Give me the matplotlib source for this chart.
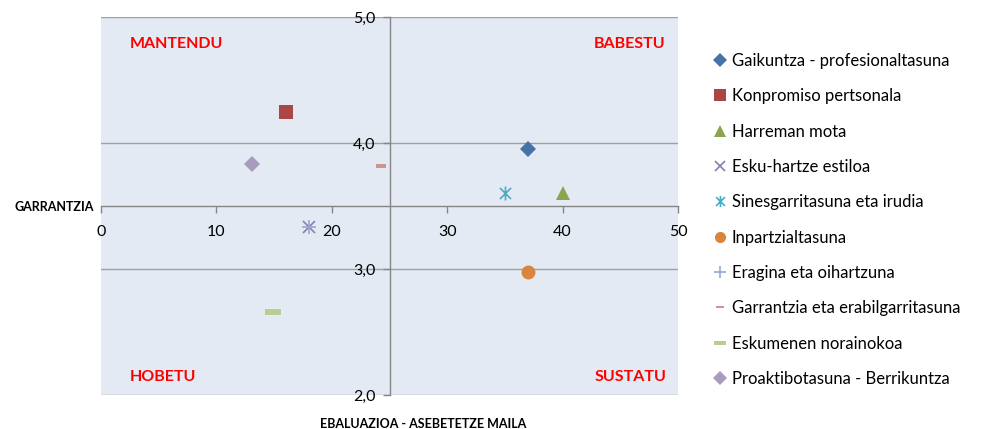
import matplotlib
matplotlib.use("Agg")
import matplotlib.pyplot as plt
from matplotlib.path import Path
import numpy as np

plt.rcParams['font.family'] = ['Lato', 'DejaVu Sans']

series = ["Gaikuntza - profesionaltasuna", "Konpromiso pertsonala", "Harreman mota",
          "Esku-hartze estiloa", "Sinesgarritasuna eta irudia", "Inpartzialtasuna",
          "Eragina eta oihartzuna", "Garrantzia eta erabilgarritasuna",
          "Eskumenen norainokoa", "Proaktibotasuna - Berrikuntza"]
x_vals = [37.0, 16.0, 40.0, 18.0, 35.0, 37.0, 18.0, 24.3, 14.9, 13.1]
y_vals = [3.95, 4.25, 3.60, 3.33, 3.60, 2.98, 3.33, 3.82, 2.66, 3.83]
colors = ["#4572A7", "#AA4643", "#89A54E", "#8D7BAE", "#4BACC6", "#DB843D",
          "#93A9CF", "#D19392", "#B9CD96", "#A99BBD"]
x_ticks = [0, 10, 20, 30, 40, 50]
y_ticks = [2.0, 3.0, 4.0, 5.0]
y_tick_labels = ["2,0", "3,0", "4,0", "5,0"]
quadrants = [("MANTENDU", 2.5, 4.786, "left"), ("BABESTU", 48.9, 4.786, "right"),
             ("HOBETU", 2.5, 2.14, "left"), ("SUSTATU", 49.0, 2.14, "right")]

# custom markers
star = Path([(-1, -1), (1, 1), (-1, 1), (1, -1), (0, -1.25), (0, 1.25)],
            [Path.MOVETO, Path.LINETO, Path.MOVETO, Path.LINETO, Path.MOVETO, Path.LINETO])
dash = Path([(-1, -0.33), (1, -0.33), (1, 0.33), (-1, 0.33), (-1, -0.33)],
            [Path.MOVETO, Path.LINETO, Path.LINETO, Path.LINETO, Path.CLOSEPOLY])
markers = ["D", "s", "^", "x", star, "o", "+", dash, dash, "D"]
sizes = [8.5, 10, 10, 9, 10, 10, 10, 7.5, 11, 8.5]

fig = plt.figure(figsize=(9.81, 4.29), dpi=100)
ax = fig.add_axes([101/981, 34/429, 577/981, 378/429])
ax.set_facecolor("#E4EAF4")
ax.set_xlim(0, 50)
ax.set_ylim(2.0, 5.0)

for s in ["top", "right"]:
    ax.spines[s].set_visible(False)
ax.spines["left"].set_position(("data", 25))
ax.spines["bottom"].set_position(("data", 3.5))
for s in ["left", "bottom"]:
    ax.spines[s].set_color("#868686")
    ax.spines[s].set_linewidth(1.0)

ax.set_yticks(y_ticks)
ax.set_yticklabels(y_tick_labels)
ax.set_xticks(x_ticks)
ax.tick_params(axis="both", colors="#868686", labelcolor="black", labelsize=11.5,
               length=5, width=1.0, direction="out")
ax.tick_params(axis="y", pad=5)
ax.tick_params(axis="x", pad=9)
ax.yaxis.grid(True, color="#A0A0A0", linewidth=1.0)
ax.set_axisbelow(True)

for i, name in enumerate(series):
    m = markers[i]
    line_marker = m in ("x", "+") or m is star
    ax.plot([x_vals[i]], [y_vals[i]], linestyle="none", marker=m,
            markersize=sizes[i], color=colors[i],
            markeredgewidth=(1.2 if line_marker else 0),
            markerfacecolor=colors[i], markeredgecolor=colors[i],
            label=name, zorder=3, clip_on=False)

for txt, qx, qy, ha in quadrants:
    ax.text(qx, qy, txt, color="#FF0000", fontsize=11.5, fontweight="bold",
            ha=ha, va="center")

fig.text(94/981, 1 - 207/429, "GARRANTZIA", fontsize=9, fontweight="bold",
         ha="right", va="center")
fig.text(423/981, 1 - 424/429, "EBALUAZIOA - ASEBETETZE MAILA", fontsize=9,
         fontweight="bold", ha="center", va="center")

leg = ax.legend(loc="upper left", bbox_to_anchor=(714/981, 1 - 53/429),
                bbox_transform=fig.transFigure, frameon=False, fontsize=12,
                handlelength=0.75, handletextpad=0.3, labelspacing=1.16,
                borderaxespad=0, borderpad=0, numpoints=1, markerscale=0.8)

fig.savefig("out.png", dpi=100)
